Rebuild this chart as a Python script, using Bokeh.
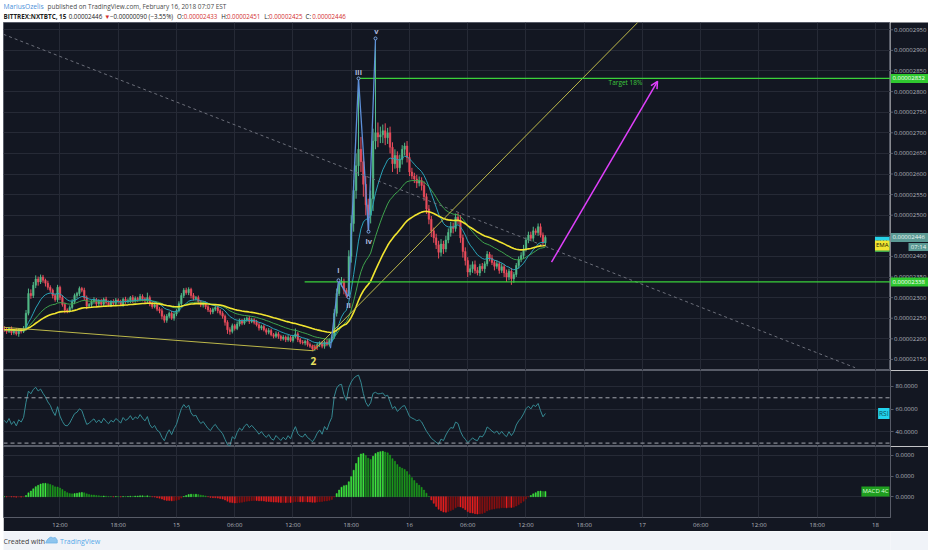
import numpy as np
from bokeh.plotting import figure
from bokeh.layouts import column, row
from bokeh.models import (Range1d, FixedTicker, PrintfTickFormatter, Label, Span, Arrow,
                          OpenHead, Spacer)
from bokeh.core.properties import value
from bokeh.embed import file_html
from bokeh.resources import INLINE

# ---------------- data (prices in units of 1e-8 BTC, time in hours since Feb 14 00:00) ----------------
candle_start_hour = 6.25
candle_step_hour = 0.25
first_open = 2225
closes = [
    2222, 2218, 2225,              # 06
    2215, 2220, 2212, 2222,        # 07
    2218, 2226, 2262, 2310,        # 08
    2305, 2330, 2345, 2338,        # 09
    2350, 2342, 2335, 2325,        # 10
    2318, 2305, 2295, 2325,        # 11
    2300, 2283, 2270, 2268,        # 12
    2276, 2290, 2305, 2310,        # 13
    2322, 2318, 2300, 2280,        # 14
    2283, 2290, 2295, 2285,        # 15
    2292, 2284, 2296, 2288,        # 16
    2282, 2290, 2286, 2294,        # 17
    2290, 2284, 2296, 2290,        # 18
    2293, 2300, 2292, 2298,        # 19
    2295, 2303, 2297, 2292,        # 20
    2300, 2285, 2278, 2282,        # 21
    2272, 2268, 2255, 2245,        # 22
    2255, 2262, 2250, 2260,        # 23
    2268, 2285, 2305, 2318,        # 15th 00
    2312, 2320, 2305, 2298,        # 01
    2300, 2290, 2282, 2286,        # 02
    2278, 2270, 2265, 2272,        # 03
    2276, 2268, 2262, 2255,        # 04
    2240, 2222, 2218, 2232,        # 05
    2225, 2236, 2244, 2238,        # 06
    2246, 2250, 2242, 2246,        # 07
    2240, 2234, 2226, 2230,        # 08
    2222, 2216, 2220, 2210,        # 09
    2206, 2212, 2206, 2200,        # 10
    2204, 2198, 2203, 2196,        # 11
    2205, 2212, 2198, 2192,        # 12
    2190, 2194, 2186, 2182,        # 13
    2176, 2180, 2186, 2190,        # 14
    2182, 2192, 2186, 2196,        # 15
    2205, 2262, 2310, 2335,        # 16
    2340, 2318, 2305, 2400,        # 17
    2480, 2560, 2620, 2660,        # 18
    2630, 2575, 2525, 2500,        # 19
    2540, 2680, 2700, 2690,        # 20
    2695, 2705, 2688, 2700,        # 21
    2665, 2625, 2645, 2615,        # 22
    2635, 2660, 2668, 2640,        # 23
    2605, 2595, 2588, 2578,        # 16th 00
    2584, 2572, 2545, 2515,        # 01
    2490, 2462, 2445, 2428,        # 02
    2410, 2430, 2418, 2440,        # 03
    2458, 2472, 2468, 2495,        # 04
    2488, 2445, 2412, 2390,        # 05
    2362, 2370, 2380, 2366,        # 06
    2360, 2376, 2370, 2382,        # 07
    2405, 2396, 2385, 2376,        # 08
    2382, 2366, 2375, 2360,        # 09
    2350, 2364, 2346, 2356,        # 10
    2378, 2392, 2402, 2418,        # 11
    2440, 2452, 2444, 2462,        # 12
    2458, 2472, 2452, 2433,        # 13
    2446,                          # 14
]
wick_up = [
    6, 5, 4,
    5, 4, 6, 4,   4, 5, 8, 12,   10, 8, 9, 6,   6, 5, 4, 6,   5, 4, 5, 6,
    4, 6, 5, 4,   5, 6, 5, 4,    5, 4, 6, 5,    4, 5, 6, 4,   4, 5, 4, 6,
    5, 4, 6, 5,   4, 5, 4, 6,    5, 4, 6, 5,    4, 6, 5, 4,   12, 5, 4, 6,
    4, 5, 6, 4,   5, 4, 6, 5,    4, 6, 6, 5,    6, 5, 4, 6,   4, 5, 4, 5,
    5, 4, 5, 4,   4, 5, 4, 5,    4, 5, 6, 5,    4, 6, 5, 4,   5, 4, 6, 5,
    4, 6, 5, 4,   5, 4, 6, 5,    4, 6, 5, 4,    5, 4, 6, 5,   4, 13, 5, 4,
    5, 4, 6, 5,   4, 6, 5, 4,    5, 4, 6, 5,    5, 10, 12, 10, 10, 6, 5, 15,
    20, 25, 30, 172,  30, 20, 20, 15,  20, 30, 229, 25,  20, 15, 18, 12,
    15, 12, 15, 10,   12, 10, 8, 12,   12, 10, 8, 10,    10, 8, 10, 8,
    10, 8, 8, 10,     10, 12, 8, 10,   10, 12, 10, 9,    10, 12, 8, 10,
    8, 10, 8, 10,     8, 6, 8, 6,      8, 6, 8, 6,       8, 6, 8, 6,
    8, 6, 8, 6,       6, 8, 8, 10,     6, 8, 8, 10,      6, 8, 8, 6,
    5,
]
wick_dn = [
    5, 6, 4,
    6, 5, 4, 7,   5, 4, 6, 5,    8, 6, 7, 9,    5, 6, 8, 6,   6, 7, 5, 6,
    6, 5, 8, 6,   4, 5, 6, 7,    6, 5, 7, 8,    5, 6, 5, 6,   5, 4, 6, 5,
    4, 5, 6, 4,   5, 4, 6, 5,    4, 6, 5, 4,    5, 4, 6, 5,   5, 6, 5, 4,
    5, 6, 8, 6,   6, 5, 4, 6,    5, 4, 5, 6,    5, 6, 7, 5,   5, 6, 5, 6,
    6, 5, 6, 5,   5, 6, 5, 6,    8, 10, 8, 5,   5, 4, 6, 5,   4, 5, 6, 4,
    5, 4, 6, 5,   4, 6, 5, 4,    5, 4, 6, 5,    4, 6, 5, 4,   5, 4, 6, 5,
    4, 6, 5, 4,   6, 5, 4, 6,    5, 6, 4, 5,    5, 5, 8, 6,   8, 10, 5, 6,
    15, 20, 20, 25,   25, 30, 25, 40,  20, 30, 20, 25,   15, 20, 18, 15,
    15, 20, 12, 15,   10, 12, 15, 12,  10, 8, 10, 12,    8, 12, 10, 12,
    12, 15, 12, 10,   15, 10, 12, 8,   8, 10, 12, 8,     10, 12, 15, 12,
    12, 8, 10, 8,     6, 8, 6, 10,     6, 8, 6, 10,      6, 8, 6, 10,
    12, 8, 15, 10,    6, 8, 6, 8,      6, 8, 6, 8,       6, 8, 6, 8,
    8,
]

price_ticks = [2150, 2200, 2250, 2300, 2350, 2400, 2450, 2500, 2550, 2600,
               2650, 2700, 2750, 2800, 2850, 2900, 2950]
time_ticks = [12, 18, 24, 30, 36, 42, 48, 54, 60, 66, 72, 78, 84, 90, 96]
time_labels = ["12:00", "18:00", "15", "06:00", "12:00", "18:00", "16", "06:00",
               "12:00", "18:00", "17", "06:00", "12:00", "18:00", "18"]
rsi_ticks = [40, 60, 80]
rsi_bands = [70, 30]

target_level = 2832
target_from = 42.75
support_level = 2338
support_from = 37.2
last_price = 2446
countdown = "07:14"

# drawings (time, price)
wave_t = [39.86, 40.69, 41.72, 42.75, 43.78, 44.50]
wave_p = [2177, 2342, 2301, 2832, 2460, 2929]
wave_label_t = [40.69, 41.72, 42.75, 43.80, 44.60]
wave_label_p = [2366, 2281, 2847, 2438, 2946]
wave_labels = ["i", "ii", "iii", "iv", "v"]
low_line_t = [6.18, 38.11]
low_line_p = [2228, 2171]
rise_line_t = [38.11, 75.0]
rise_line_p = [2171, 3051]
down_line_t = [6.18, 93.9]
down_line_p = [2939, 2130]
arrow_t = [62.63, 73.55]
arrow_p = [2386, 2825]
two_t, two_p = 38.11, 2145
x_mark_t, x_mark_p = 38.32, 2179
target_text_t, target_text_p = 70.25, 2821

UNIT = 1e-8

# ---------------- indicators ----------------
c = np.array(closes, dtype=float)
n = len(c)
t = candle_start_hour + candle_step_hour * np.arange(n)
o = np.concatenate([[first_open], c[:-1]])
hi = np.maximum(o, c) + np.array(wick_up, dtype=float)
lo = np.minimum(o, c) - np.array(wick_dn, dtype=float)


def ema(x, period):
    a = 2.0 / (period + 1)
    out = np.empty_like(x)
    out[0] = x[0]
    for i in range(1, len(x)):
        out[i] = a * x[i] + (1 - a) * out[i - 1]
    return out


def rsi(x, period=14):
    d = np.diff(x)
    g = np.where(d > 0, d, 0.0)
    l = np.where(d < 0, -d, 0.0)
    ag = al = np.abs(d[:8]).mean() / 2
    out = np.empty(len(x))
    out[0] = 50.0
    for i in range(1, len(x)):
        ag = (ag * (period - 1) + g[i - 1]) / period
        al = (al * (period - 1) + l[i - 1]) / period
        out[i] = 100 - 100 / (1 + ag / al) if al > 0 else 100.0
    return out


e12 = ema(c, 12)
e26 = ema(c, 26)
e50 = ema(c, 50)
r = rsi(c)
macd = e12 - e26
mcol = []
for i in range(n):
    prev = macd[i - 1] if i > 0 else macd[i]
    if macd[i] >= 0:
        mcol.append("#3ee83e" if macd[i] >= prev else "#1c9a1c")
    else:
        mcol.append("#e81e1e" if macd[i] <= prev else "#8c1010")

# ---------------- styling ----------------
PLOT_W = 887          # chart frame width
AX_W = 38             # price scale width
W = PLOT_W + AX_W
X0, X1 = 6.18, 97.55
BG = "#131722"
GRID = "#262a36"
SEP = "#585c68"
TXT = "#b2b5be"
FONT = "Open Sans"
UPC, DNC = "#53b987", "#eb4d5c"
GREEN_LINE = "#3ad13a"
TAG_GREEN = "#2fc82f"
TAG_LAST = "#5b9a94"

xr = Range1d(X0, X1)


def style_axis(ax):
    ax.axis_line_color = None
    ax.major_tick_line_color = SEP
    ax.major_tick_out = 3
    ax.major_tick_in = 0
    ax.minor_tick_line_color = None
    ax.major_label_text_color = TXT
    ax.major_label_text_font = FONT
    ax.major_label_text_font_size = "6px"
    ax.major_label_standoff = 2


def panel(width, height, y_range, x_axis=False, y_axis=True):
    f = figure(width=width, height=height, x_range=xr, y_range=y_range,
               output_backend="svg", toolbar_location=None,
               x_axis_location="below" if x_axis else None,
               y_axis_location="right" if y_axis else None,
               min_border_left=0, min_border_right=AX_W if y_axis else 0,
               min_border_top=0, min_border_bottom=0,
               background_fill_color=BG, border_fill_color=BG, outline_line_color=SEP)
    f.xgrid.ticker = FixedTicker(ticks=time_ticks)
    f.grid.grid_line_color = GRID
    if y_axis:
        style_axis(f.yaxis[0])
    return f


def tag(fig, x, y, text, bg, fg, align="right", xoff=-1, size="6px"):
    fig.add_layout(Label(x=x, y=y, x_offset=xoff, text=text, text_align=align,
                         text_baseline="middle", text_font=FONT, text_font_size=size,
                         text_color=fg, background_fill_color=bg, padding=1))


# ---------------- header ----------------
hd = figure(width=W, height=22, x_range=Range1d(0, W), y_range=Range1d(0, 22),
            output_backend="svg", toolbar_location=None, x_axis_location=None,
            y_axis_location=None, min_border=0, background_fill_color="#ffffff",
            border_fill_color="#ffffff", outline_line_color=None)
hd.grid.visible = False
hd.text(x=[0], y=[16], text=["MariusOzelis"], text_color="#4a90d9",
        text_font=value(FONT), text_font_size="6.7px", text_baseline="middle")
hd.text(x=[46], y=[16], text=["published on TradingView.com, February 16, 2018 07:07 EST"],
        text_color="#4a4a4a", text_font=value(FONT), text_font_size="6.4px",
        text_baseline="middle")
hd.text(x=[0], y=[6.3], text=["BITTREX:NXTBTC, 15"], text_color="#1e1e1e",
        text_font=value(FONT), text_font_size="6.3px", text_font_style="bold",
        text_baseline="middle")
hd.text(x=[68, 105, 111, 181, 188, 227, 233, 272, 277, 315, 322], y=[6.3] * 11,
        text=["0.00002446", "▼", "−0.00000090 (−3.55%)", "O:", "0.00002433", "H:",
              "0.00002451", "L:", "0.00002425", "C:", "0.00002446"],
        text_color=["#222222", "#d32f2f", "#222222", "#222222", "#d32f2f", "#222222",
                    "#d32f2f", "#222222", "#d32f2f", "#222222", "#d32f2f"],
        text_font=value(FONT), text_font_size="6.2px", text_baseline="middle")

# ---------------- price panel ----------------
PRICE_H = 348
py = Range1d(2123.1 * UNIT, 2967.7 * UNIT)
pp = panel(PLOT_W, PRICE_H, py, y_axis=False)
pp.ygrid.ticker = FixedTicker(ticks=[v * UNIT for v in price_ticks])

cols = [UPC if cc >= oo else DNC for oo, cc in zip(o, c)]
pp.segment(x0=t, y0=lo * UNIT, x1=t, y1=hi * UNIT, line_color=cols, line_width=1)
pp.vbar(x=t, width=0.16, top=np.maximum(o, c) * UNIT, bottom=np.minimum(o, c) * UNIT,
        fill_color=cols, line_color=cols, line_width=0.5)

pp.line(t, e26 * UNIT, line_color="#3fa34d", line_width=1)
pp.line(t, e12 * UNIT, line_color="#2aa3b8", line_width=1)
pp.line(t, e50 * UNIT, line_color="#f2e530", line_width=1.6)

# drawings
pp.line(down_line_t, [v * UNIT for v in down_line_p], line_color="#6c6f7a", line_width=1,
        line_dash="3 3")
pp.line(low_line_t, [v * UNIT for v in low_line_p], line_color="#bdb84a", line_width=1)
pp.line(rise_line_t, [v * UNIT for v in rise_line_p], line_color="#bdb84a", line_width=1)
pp.segment(x0=[target_from, support_from], y0=[target_level * UNIT, support_level * UNIT],
           x1=[X1 + 5, X1 + 5], y1=[target_level * UNIT, support_level * UNIT],
           line_color=GREEN_LINE, line_width=1.3)
pp.line(wave_t, [v * UNIT for v in wave_p], line_color="#5d8fd8", line_width=1.3)
pp.scatter(wave_t[1:], [v * UNIT for v in wave_p[1:]], size=3, fill_color=BG,
           line_color="#7aa6e6", line_width=1)
pp.text(x=wave_label_t, y=[v * UNIT for v in wave_label_p], text=wave_labels,
        text_color="#aeb8dc", text_font=value(FONT), text_font_size="7.5px",
        text_font_style="bold", text_align="center", text_baseline="middle")
pp.scatter([x_mark_t], [x_mark_p * UNIT], marker="x", size=6, line_color="#e53935",
           line_width=1.3)
pp.text(x=[two_t], y=[two_p * UNIT], text=["2"], text_color="#e8e060",
        text_font=value(FONT), text_font_size="10px", text_font_style="bold",
        text_align="center", text_baseline="middle")
pp.text(x=[target_text_t], y=[target_text_p * UNIT], text=["Target 18%"],
        text_color="#3cc83c", text_font=value(FONT), text_font_size="6.5px",
        text_align="center", text_baseline="middle")
pp.add_layout(Arrow(end=OpenHead(size=7, line_color="#e040fb", line_width=1.5),
                    x_start=arrow_t[0], y_start=arrow_p[0] * UNIT,
                    x_end=arrow_t[1], y_end=arrow_p[1] * UNIT,
                    line_color="#e040fb", line_width=1.5))

tag(pp, X1, e26[-1] * UNIT, "EMA", "#3fa34d", "#0b2a10")
tag(pp, X1, e12[-1] * UNIT, "EMA", "#27d3e8", "#0b3a44")
tag(pp, X1, e50[-1] * UNIT, "EMA", "#f2e530", "#1a1a00")

# price scale (shares the price panel's y scale)
pa = figure(width=AX_W, height=PRICE_H, x_range=Range1d(0, AX_W), y_range=py,
            output_backend="svg", toolbar_location=None, x_axis_location=None,
            y_axis_location=None, min_border=0, background_fill_color=BG,
            border_fill_color=BG, outline_line_color=None)
pa.grid.visible = False
tick_vals = [v * UNIT for v in price_ticks]
pa.segment(x0=[0] * len(tick_vals), y0=tick_vals, x1=[2.5] * len(tick_vals), y1=tick_vals,
           line_color=SEP, line_width=1)
pa.text(x=[3.5] * len(tick_vals), y=tick_vals,
        text=["%.8f" % v for v in tick_vals], text_color=TXT, text_font=value(FONT),
        text_font_size="6px", text_baseline="middle")
px_per_unit = PRICE_H / (py.end - py.start) * UNIT
tag_levels = [target_level, support_level, last_price]
tag_colors = [TAG_GREEN, TAG_GREEN, TAG_LAST]
pa.rect(x=[AX_W / 2] * 3, y=[v * UNIT for v in tag_levels], width=AX_W, height=9,
        height_units="screen", fill_color=tag_colors, line_color=None)
pa.text(x=[2] * 3, y=[v * UNIT for v in tag_levels], text=["%.8f" % (v * UNIT) for v in tag_levels],
        text_color=["#ffffff", "#ffffff", "#e8f5f2"], text_font=value(FONT),
        text_font_size="6px", text_baseline="middle")
cd_y = (last_price - 9.5 / px_per_unit) * UNIT
pa.rect(x=[28], y=[cd_y], width=20, height=8, height_units="screen",
        fill_color=TAG_LAST, line_color=None)
pa.text(x=[28], y=[cd_y], text=[countdown], text_color="#e8f5f2", text_font=value(FONT),
        text_font_size="6px", text_align="center", text_baseline="middle")

# ---------------- RSI panel ----------------
rp = panel(W, 76, Range1d(27.0, 94.1))
rp.yaxis.ticker = FixedTicker(ticks=rsi_ticks)
rp.ygrid.ticker = FixedTicker(ticks=rsi_ticks)
rp.yaxis.formatter = PrintfTickFormatter(format="%.4f")
for lvl in rsi_bands:
    rp.add_layout(Span(location=lvl, dimension="width", line_color="#a3a6af",
                       line_dash="4 3", line_width=1))
rp.line(t, r, line_color="#358891", line_width=1)
tag(rp, X1, r[-1], "RSI", "#22d3ee", "#0b4f5a", size="6.5px")

# ---------------- MACD panel ----------------
M = macd.max()
m_lo, m_hi = -M * 21.7 / 47.3, M * 52.3 / 47.3
mp = panel(W, 85, Range1d(m_lo * UNIT, m_hi * UNIT), x_axis=True)
m_ticks = [0.0, M * 21.5 / 47.3 * UNIT, M * 43.0 / 47.3 * UNIT]
mp.yaxis.ticker = FixedTicker(ticks=m_ticks)
mp.ygrid.ticker = FixedTicker(ticks=m_ticks)
mp.yaxis.formatter = PrintfTickFormatter(format="%.4f")
mp.vbar(x=t, width=0.12, top=macd * UNIT, bottom=0, fill_color=mcol, line_color=mcol,
        line_width=0.5)
xa = mp.xaxis[0]
xa.ticker = FixedTicker(ticks=time_ticks)
xa.major_label_overrides = {tk: lb for tk, lb in zip(time_ticks, time_labels)}
xa.axis_line_color = None
xa.major_tick_line_color = None
xa.major_tick_out = 0
xa.major_tick_in = 0
xa.minor_tick_line_color = None
xa.major_label_text_color = TXT
xa.major_label_text_font = FONT
xa.major_label_text_font_size = "6px"
xa.major_label_standoff = 3
tag(mp, X1, macd[-1] * UNIT, "MACD 4C", "#1f9e1f", "#d9ffd9")

# ---------------- footer ----------------
ft = figure(width=W, height=19, x_range=Range1d(0, W), y_range=Range1d(0, 19),
            output_backend="svg", toolbar_location=None, x_axis_location=None,
            y_axis_location=None, min_border=0, background_fill_color="#f0f3f8",
            border_fill_color="#f0f3f8", outline_line_color=None)
ft.grid.visible = False
ft.text(x=[0, 59], y=[9.5, 9.5], text=["Created with", "TradingView"],
        text_color=["#3c3c3c", "#56a8e8"], text_font=value(FONT), text_font_size="7px",
        text_baseline="middle")
ft.patch(x=[44, 45.5, 47.5, 49.5, 51.5, 54, 56, 56, 44],
         y=[7.5, 10.5, 12.5, 13.5, 12.5, 13, 10.5, 7.5, 7.5], fill_color="#8ec5ee",
         line_color="#6fb3e6", line_width=0.8)

body = column(hd, row(pp, pa, spacing=0), rp, mp, ft, spacing=0)
layout = row(Spacer(width=3, height=550), body, spacing=0)
open("out.html", "w").write(file_html(layout, INLINE))
